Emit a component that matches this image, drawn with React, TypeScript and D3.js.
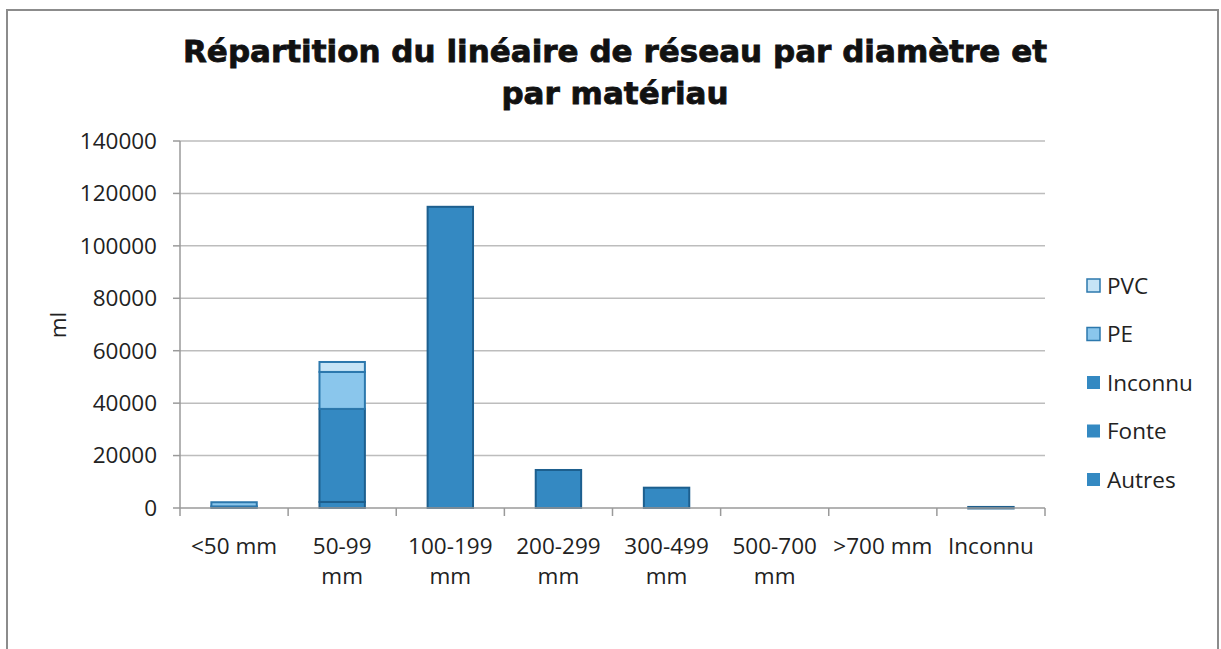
import React, { useEffect, useRef } from 'react';
import * as d3 from 'd3';

// categories (diamètres)
const categories = ['<50 mm', '50-99 mm', '100-199 mm', '200-299 mm', '300-499 mm', '500-700 mm', '>700 mm', 'Inconnu'];
const categoryLines = [['<50 mm'], ['50-99', 'mm'], ['100-199', 'mm'], ['200-299', 'mm'], ['300-499', 'mm'], ['500-700', 'mm'], ['>700 mm'], ['Inconnu']];

// series (matériaux), bottom to top
const seriesNames = ['Autres', 'Fonte', 'Inconnu', 'PE', 'PVC'];
const autres = [0, 2300, 0, 0, 0, 0, 0, 0];
const fonte = [600, 35500, 114900, 14500, 7750, 0, 0, 0];
const inconnu = [0, 0, 0, 0, 0, 0, 0, 400];
const pe = [1600, 14100, 0, 0, 0, 0, 0, 0];
const pvc = [0, 3800, 0, 0, 0, 0, 0, 0];

const yTicks = [0, 20000, 40000, 60000, 80000, 100000, 120000, 140000];

const fills = ['#3489c2', '#3489c2', '#3489c2', '#8ac6ec', '#c6e4f6'];
const strokes = ['#1d5f8e', '#1d5f8e', '#1d5f8e', '#2c78ad', '#2c78ad'];

const W = 1221;
const H = 649;

export default function App() {
  const ref = useRef<SVGSVGElement>(null);

  useEffect(() => {
    const svg = d3.select(ref.current);
    svg.selectAll('*').remove();

    const font = '"Open Sans", "DejaVu Sans", sans-serif';
    const fs = 22.5;
    const left = 180, right = 1045, top = 141, bottom = 508;

    // outer frame
    svg.append('rect').attr('x', 7).attr('y', 10).attr('width', W - 10).attr('height', H)
      .attr('fill', '#fff').attr('stroke', '#8c8c8c').attr('stroke-width', 2);

    const x = d3.scaleBand().domain(categories).range([left, right]).paddingInner(0.58).paddingOuter(0.29);
    const xb = d3.scaleBand().domain(categories).range([left, right]);
    const y = d3.scaleLinear().domain([0, 140000]).range([bottom, top]);

    // grid
    svg.append('g').selectAll('line').data(yTicks.slice(1)).enter().append('line')
      .attr('x1', left).attr('x2', right)
      .attr('y1', (d) => y(d)).attr('y2', (d) => y(d))
      .attr('stroke', '#bdbdbd').attr('stroke-width', 1.5);

    // title
    const title = svg.append('text').attr('text-anchor', 'middle')
      .attr('font-family', '"DejaVu Sans", Verdana, sans-serif').attr('font-weight', 'bold')
      .attr('font-size', 31).attr('fill', '#111').attr('stroke', '#111').attr('stroke-width', 0.8);
    title.append('tspan').attr('x', 615).attr('y', 62).text('Répartition du linéaire de réseau par diamètre et');
    title.append('tspan').attr('x', 615).attr('y', 104).text('par matériau');

    // y axis
    svg.append('line').attr('x1', left).attr('x2', left).attr('y1', top).attr('y2', bottom)
      .attr('stroke', '#9a9a9a').attr('stroke-width', 1.5);
    const yg = svg.append('g');
    yTicks.forEach((t) => {
      yg.append('line').attr('x1', left - 7).attr('x2', left).attr('y1', y(t)).attr('y2', y(t))
        .attr('stroke', '#9a9a9a').attr('stroke-width', 1.5);
      yg.append('text').attr('x', 157).attr('y', y(t)).attr('dy', '0.35em')
        .attr('text-anchor', 'end').attr('font-family', font).attr('font-size', fs)
        .attr('fill', '#222').text(t);
    });
    svg.append('text').attr('transform', 'translate(66,325) rotate(-90)')
      .attr('text-anchor', 'middle').attr('font-family', font).attr('font-size', fs)
      .attr('fill', '#222').text('ml');

    // stacked bars
    const rows = categories.map((c, i) => ({
      cat: c, Autres: autres[i], Fonte: fonte[i], Inconnu: inconnu[i], PE: pe[i], PVC: pvc[i],
    }));
    const stack = d3.stack<any>().keys(seriesNames)(rows);
    stack.forEach((layer, si) => {
      svg.append('g').selectAll('rect').data(layer.filter((d) => d[1] > d[0])).enter().append('rect')
        .attr('x', (d) => x(d.data.cat)!)
        .attr('width', x.bandwidth())
        .attr('y', (d) => y(d[1]))
        .attr('height', (d) => Math.max(1.5, y(d[0]) - y(d[1])))
        .attr('fill', fills[si])
        .attr('stroke', strokes[si]).attr('stroke-width', 2);
    });

    // x axis
    svg.append('line').attr('x1', left).attr('x2', right).attr('y1', bottom).attr('y2', bottom)
      .attr('stroke', '#9a9a9a').attr('stroke-width', 1.5);
    const edges = categories.map((c) => xb(c)!).concat([right]);
    edges.forEach((e) => {
      svg.append('line').attr('x1', e).attr('x2', e).attr('y1', bottom).attr('y2', bottom + 8)
        .attr('stroke', '#9a9a9a').attr('stroke-width', 1.5);
    });
    categories.forEach((c, i) => {
      const cx = xb(c)! + xb.bandwidth() / 2;
      const t = svg.append('text').attr('text-anchor', 'middle').attr('font-family', font)
        .attr('font-size', fs).attr('fill', '#222');
      categoryLines[i].forEach((line, li) => {
        t.append('tspan').attr('x', cx).attr('y', 554 + li * 30).text(line);
      });
    });

    // legend (top to bottom: PVC, PE, Inconnu, Fonte, Autres)
    const legendOrder = [4, 3, 2, 1, 0];
    legendOrder.forEach((si, k) => {
      const ly = 286 + k * 48.5;
      svg.append('rect').attr('x', 1087).attr('y', ly - 7).attr('width', 13).attr('height', 13)
        .attr('fill', fills[si]).attr('stroke', si >= 3 ? strokes[si] : 'none').attr('stroke-width', 1.5);
      svg.append('text').attr('x', 1107).attr('y', ly).attr('dy', '0.35em')
        .attr('font-family', font).attr('font-size', fs).attr('fill', '#222').text(seriesNames[si]);
    });
  }, []);

  return <svg ref={ref} width={W} height={H} style={{ display: 'block', position: 'absolute', left: 0, top: 0 }} />;
}
